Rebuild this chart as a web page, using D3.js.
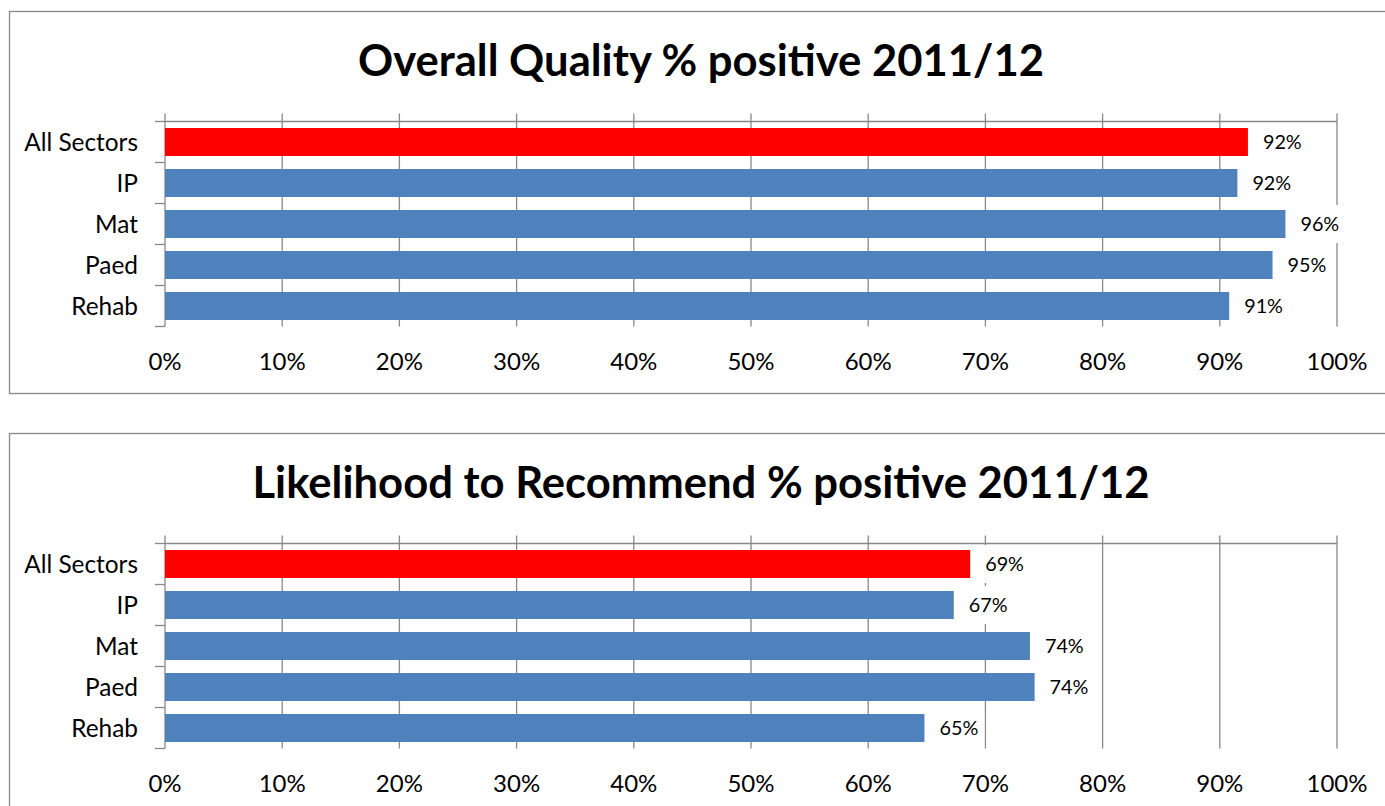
<!DOCTYPE html>
<html><head><meta charset="utf-8">
<script src="https://cdn.jsdelivr.net/npm/d3@7"></script>
<style>html,body{margin:0;padding:0;background:#fff;overflow:hidden}svg{display:block;font-family:Lato,"Open Sans",sans-serif}</style>
</head><body>
<svg id="chart" width="1385" height="806"></svg>
<script>
const categories = ["All Sectors", "IP", "Mat", "Paed", "Rehab"];
const qualityValues = [0.924, 0.915, 0.956, 0.945, 0.908];
const recommendValues = [0.687, 0.673, 0.738, 0.742, 0.648];
const tickValues = [0, 0.1, 0.2, 0.3, 0.4, 0.5, 0.6, 0.7, 0.8, 0.9, 1.0];
const titles = ["Overall Quality % positive 2011/12", "Likelihood to Recommend % positive 2011/12"];
const barColors = ["#FF0000", "#4F81BD", "#4F81BD", "#4F81BD", "#4F81BD"];

const svg = d3.select("#chart");
const gridColor = "#888888";
const pct = d3.format(".0%");

function panel(offsetY, title, values) {
  const g = svg.append("g").attr("transform", `translate(0,${offsetY})`);
  g.append("rect").attr("x", 9.5).attr("y", 11.5).attr("width", 1420).attr("height", 382)
    .attr("fill", "#fff").attr("stroke", gridColor).attr("stroke-width", 1.3);
  g.append("text").attr("x", 701).attr("y", 65).attr("text-anchor", "middle")
    .attr("dominant-baseline", "middle").attr("font-weight", "bold").attr("font-size", 43.6)
    .attr("fill", "#000").text(title);

  const x = d3.scaleLinear().domain([0, 1]).range([165, 1337]);
  const y = d3.scaleBand().domain(categories).range([121.5, 326.5])
    .paddingInner(0.317).paddingOuter(0.1585);
  const top = 121.5, bottom = 326.5;

  g.selectAll(".grid").data(tickValues).join("line")
    .attr("x1", d => x(d)).attr("x2", d => x(d))
    .attr("y1", top - 8).attr("y2", bottom)
    .attr("stroke", gridColor).attr("stroke-width", 1.3);
  g.append("line").attr("x1", x(0)).attr("x2", x(1)).attr("y1", top).attr("y2", top)
    .attr("stroke", gridColor).attr("stroke-width", 1.3);
  const bounds = d3.range(categories.length + 1).map(i => top + i * y.step());
  g.selectAll(".ctick").data(bounds).join("line")
    .attr("x1", x(0) - 10).attr("x2", x(0)).attr("y1", d => d).attr("y2", d => d)
    .attr("stroke", gridColor).attr("stroke-width", 1.3);

  g.selectAll(".tl").data(tickValues).join("text")
    .attr("x", d => x(d)).attr("y", bottom + 37).attr("text-anchor", "middle")
    .attr("dominant-baseline", "middle").attr("font-size", 24).attr("fill", "#000")
    .text(d => pct(d));
  g.selectAll(".cl").data(categories).join("text")
    .attr("x", 138).attr("y", d => y(d) + y.bandwidth() / 2 + 2.5)
    .attr("text-anchor", "end").attr("dominant-baseline", "middle")
    .attr("font-size", 24.4).attr("fill", "#000").text(d => d);

  g.selectAll(".bar").data(values).join("rect")
    .attr("x", x(0)).attr("y", (d, i) => y(categories[i]))
    .attr("width", d => x(d) - x(0)).attr("height", y.bandwidth())
    .attr("fill", (d, i) => barColors[i]);

  const lbl = g.selectAll(".dl").data(values).join("g");
  lbl.each(function (d, i) {
    const sel = d3.select(this);
    const cy = y(categories[i]) + y.bandwidth() / 2;
    const tx = x(d) + 15;
    const t = sel.append("text").attr("x", tx).attr("y", cy + 2)
      .attr("dominant-baseline", "middle").attr("font-size", 19.8).attr("fill", "#000")
      .text(pct(d));
    const w = t.node().getComputedTextLength();
    sel.insert("rect", "text").attr("x", tx - 7).attr("y", cy - 19)
      .attr("width", w + 13).attr("height", 38).attr("fill", "#fff");
  });
}

panel(0, titles[0], qualityValues);
panel(422, titles[1], recommendValues);
</script>
</body></html>
